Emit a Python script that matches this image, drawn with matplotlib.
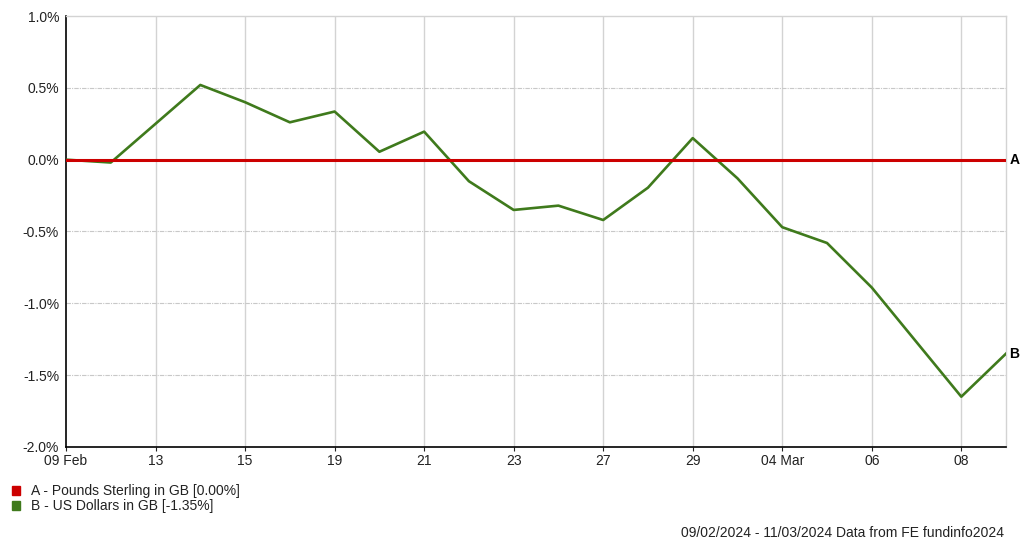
import numpy as np
import matplotlib.pyplot as plt

plt.rcParams['font.family'] = ['Liberation Sans', 'DejaVu Sans']

# trading days 09/02/2024 - 11/03/2024
days = ['09 Feb', '12', '13', '14', '15', '16', '19', '20', '21', '22', '23',
        '26', '27', '28', '29', '01', '04 Mar', '05', '06', '07', '08', '11']
gbp = [0.0] * 22
usd = [0.00, -0.02, 0.25, 0.52, 0.40, 0.26, 0.335, 0.055, 0.195, -0.15, -0.35,
       -0.32, -0.42, -0.195, 0.15, -0.13, -0.47, -0.58, -0.89, -1.27, -1.65, -1.35]
tick_idx = [0, 2, 4, 6, 8, 10, 12, 14, 16, 18, 20]
yticks = [1.0, 0.5, 0.0, -0.5, -1.0, -1.5, -2.0]

red = '#cc0000'
green = '#3f7a1c'

fig = plt.figure(figsize=(10.27, 5.5), dpi=100)
ax = fig.add_axes([0.0643, 0.1873, 0.9153, 0.7836])
x = np.arange(len(days))

ax.set_xlim(0, len(days) - 1)
ax.set_ylim(-2.0, 1.0)

for i in tick_idx[1:]:
    ax.axvline(i, color='#d3d3d3', lw=1, zorder=1)
for v in yticks[1:-1]:
    ax.axhline(v, color='#c8c8c8', lw=0.8, ls=(0, (4, 1, 1, 1)), zorder=1)

ax.plot(x, usd, color=green, lw=1.9, zorder=3)
ax.plot(x, gbp, color=red, lw=2.2, zorder=4)

ax.text(len(days) - 1 + 0.08, gbp[-1], 'A', fontsize=10, fontweight='bold', va='center', ha='left')
ax.text(len(days) - 1 + 0.06, usd[-1], 'B', fontsize=10, fontweight='bold', va='center', ha='left')

ax.set_xticks(tick_idx)
ax.set_xticklabels([days[i] for i in tick_idx])
ax.set_yticks(yticks)
ax.set_yticklabels(['%.1f%%' % v for v in yticks])
ax.tick_params(axis='x', length=3, width=0.8, pad=2, labelsize=10, colors='#222222')
ax.tick_params(axis='y', length=0, pad=5, labelsize=10, colors='#222222')

for s in ['left', 'bottom']:
    ax.spines[s].set_color('black')
    ax.spines[s].set_linewidth(1.2)
for s in ['top', 'right']:
    ax.spines[s].set_color('#d3d3d3')
    ax.spines[s].set_linewidth(1)

# legend
fig.patches.append(plt.Rectangle((12 / 1027, 1 - 495 / 550), 8 / 1027, 9 / 550,
                                 transform=fig.transFigure, color=red))
fig.patches.append(plt.Rectangle((12 / 1027, 1 - 510 / 550), 8 / 1027, 9 / 550,
                                 transform=fig.transFigure, color=green))
fig.text(31 / 1027, 1 - 491 / 550, 'A - Pounds Sterling in GB [0.00%]', fontsize=10, va='center', color='#222222')
fig.text(31 / 1027, 1 - 506 / 550, 'B - US Dollars in GB [-1.35%]', fontsize=10, va='center', color='#222222')
fig.text(1004 / 1027, 1 - 533 / 550, '09/02/2024 - 11/03/2024 Data from FE fundinfo2024',
         fontsize=10, ha='right', va='center', color='#222222')

fig.savefig('out.png', dpi=100)
